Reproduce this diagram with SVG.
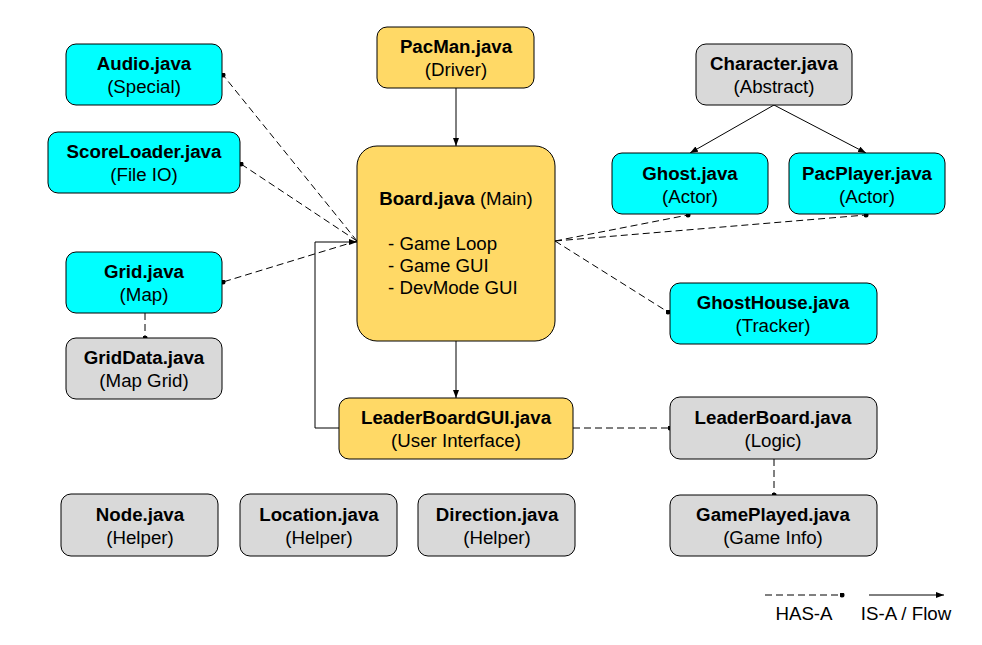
<svg xmlns="http://www.w3.org/2000/svg" width="982" height="645" viewBox="0 0 982 645">
<defs>
<marker id="arr" viewBox="0 0 8 6" refX="8" refY="3" markerWidth="8" markerHeight="6" markerUnits="userSpaceOnUse" orient="auto"><path d="M0,0 L8,3 L0,6 z" fill="#000"/></marker>
<marker id="dot" viewBox="0 0 6 6" refX="3" refY="3" markerWidth="5" markerHeight="5" markerUnits="userSpaceOnUse"><circle cx="3" cy="3" r="3" fill="#000"/></marker>
</defs>
<style>
.box{stroke:#000;stroke-width:1}
.cy{fill:#00ffff}
.ye{fill:#ffd966}
.gr{fill:#d9d9d9}
text{font-family:"Liberation Sans",Arial,sans-serif;font-size:18.7px;fill:#000}
.t{font-weight:bold;text-anchor:middle}
.s{text-anchor:middle}
.solid{stroke:#000;stroke-width:1;fill:none;marker-end:url(#arr)}
.has{stroke:#000;stroke-width:1;fill:none;stroke-dasharray:7,4;marker-end:url(#dot)}
</style>
<rect width="982" height="645" fill="#fff"/>
<g id="connectors">
<path class="solid" d="M456,88 L456,146"/>
<path class="solid" d="M456,341 L456,398"/>
<path class="solid" d="M339,428 L315,428 L315,242 L357,242"/>
<path class="solid" d="M774,105 L690,153"/>
<path class="solid" d="M774,105 L866,153"/>
<path class="has" d="M357,241 L223,75"/>
<path class="has" d="M357,241 L241,164"/>
<path class="has" d="M357,241 L223,282"/>
<path class="has" d="M555,241 L688,215"/>
<path class="has" d="M555,241 L866,215"/>
<path class="has" d="M555,241 L668,312"/>
<path class="has" d="M145,313 L145,338"/>
<path class="has" d="M573,428 L670,428"/>
<path class="has" d="M774,459 L774,495"/>
</g>
<g id="audio"><rect class="box cy" x="66" y="44" width="156" height="61" rx="10"/><text class="t" x="144" y="70">Audio.java</text><text class="s" x="144" y="92.5">(Special)</text></g>
<g id="scoreloader"><rect class="box cy" x="48" y="132" width="192" height="61" rx="10"/><text class="t" x="144" y="158">ScoreLoader.java</text><text class="s" x="144" y="180.5">(File IO)</text></g>
<g id="grid"><rect class="box cy" x="66" y="252" width="156" height="61" rx="10"/><text class="t" x="144" y="278">Grid.java</text><text class="s" x="144" y="300.5">(Map)</text></g>
<g id="griddata"><rect class="box gr" x="66" y="338" width="156" height="61" rx="10"/><text class="t" x="144" y="364">GridData.java</text><text class="s" x="144" y="386.5">(Map Grid)</text></g>
<g id="pacman"><rect class="box ye" x="377" y="27" width="157" height="61" rx="10"/><text class="t" x="456" y="53">PacMan.java</text><text class="s" x="456" y="75.5">(Driver)</text></g>
<g id="board"><rect class="box ye" x="357" y="146" width="198" height="195" rx="20"/><text x="456" y="205" text-anchor="middle"><tspan font-weight="bold">Board.java</tspan> (Main)</text><text x="388" y="250">- Game Loop</text><text x="388" y="272">- Game GUI</text><text x="388" y="294">- DevMode GUI</text></g>
<g id="character"><rect class="box gr" x="696" y="44" width="156" height="61" rx="10"/><text class="t" x="774" y="70">Character.java</text><text class="s" x="774" y="92.5">(Abstract)</text></g>
<g id="ghost"><rect class="box cy" x="612" y="153" width="156" height="61" rx="10"/><text class="t" x="690" y="180">Ghost.java</text><text class="s" x="690" y="202.5">(Actor)</text></g>
<g id="pacplayer"><rect class="box cy" x="789" y="153" width="156" height="61" rx="10"/><text class="t" x="867" y="180">PacPlayer.java</text><text class="s" x="867" y="202.5">(Actor)</text></g>
<g id="ghosthouse"><rect class="box cy" x="670" y="283" width="207" height="61" rx="10"/><text class="t" x="773" y="309">GhostHouse.java</text><text class="s" x="773" y="331.5">(Tracker)</text></g>
<g id="leaderboardgui"><rect class="box ye" x="339" y="398" width="234" height="61" rx="10"/><text class="t" x="456" y="424">LeaderBoardGUI.java</text><text class="s" x="456" y="446.5">(User Interface)</text></g>
<g id="leaderboard"><rect class="box gr" x="670" y="397" width="207" height="62" rx="10"/><text class="t" x="773" y="424">LeaderBoard.java</text><text class="s" x="773" y="446.5">(Logic)</text></g>
<g id="gameplayed"><rect class="box gr" x="670" y="495" width="207" height="61" rx="10"/><text class="t" x="773" y="521">GamePlayed.java</text><text class="s" x="773" y="543.5">(Game Info)</text></g>
<g id="node"><rect class="box gr" x="61" y="494" width="157" height="62" rx="10"/><text class="t" x="140" y="521">Node.java</text><text class="s" x="140" y="543.5">(Helper)</text></g>
<g id="location"><rect class="box gr" x="240" y="494" width="157" height="62" rx="10"/><text class="t" x="319" y="521">Location.java</text><text class="s" x="319" y="543.5">(Helper)</text></g>
<g id="direction"><rect class="box gr" x="418" y="494" width="157" height="62" rx="10"/><text class="t" x="497" y="521">Direction.java</text><text class="s" x="497" y="543.5">(Helper)</text></g>
<g id="legend">
<path class="has" d="M765,595 L842,595"/>
<path class="solid" d="M869,595 L944,595"/>
<text class="s" x="804" y="620">HAS-A</text>
<text class="s" x="906" y="620">IS-A / Flow</text>
</g>
</svg>
